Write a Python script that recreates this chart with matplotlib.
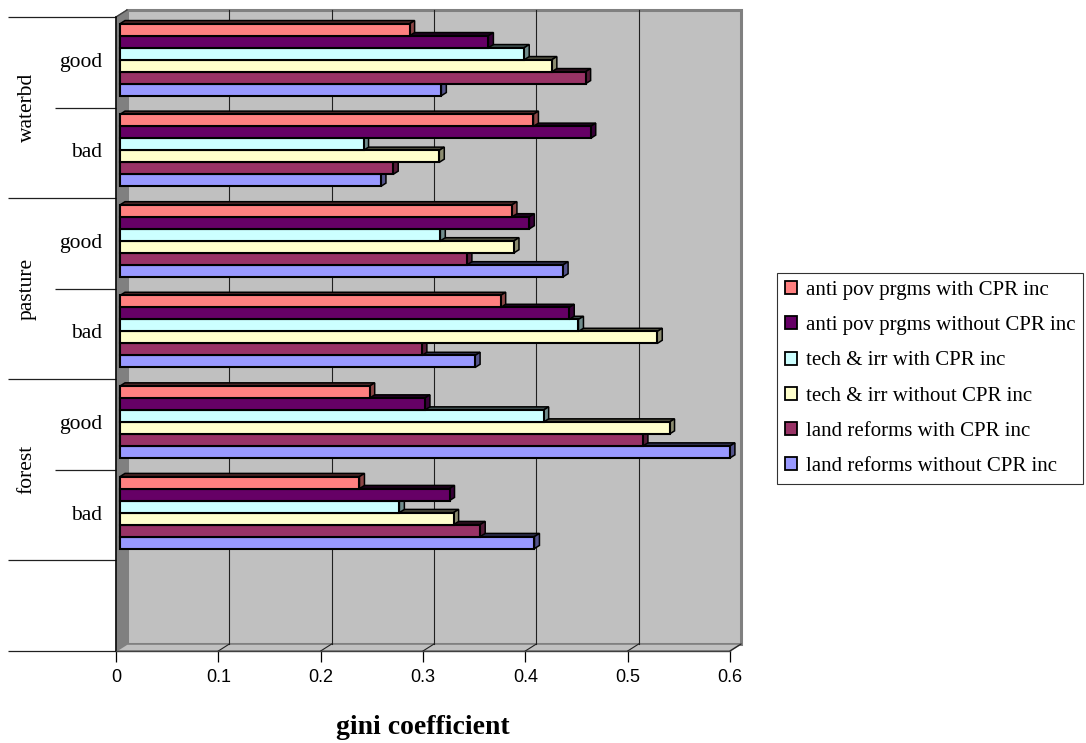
import matplotlib
matplotlib.use("Agg")
import numpy as np
import matplotlib.pyplot as plt
from matplotlib.patches import Polygon, Patch
from matplotlib.lines import Line2D
from matplotlib.colors import to_rgb
from matplotlib.transforms import IdentityTransform, offset_copy

# ---- data -------------------------------------------------------------
groups = ["waterbd", "pasture", "forest"]
rows = ["good", "bad", "good", "bad", "good", "bad"]   # top to bottom

series_labels = [
    "anti pov prgms with CPR inc",
    "anti pov prgms without CPR inc",
    "tech & irr with CPR inc",
    "tech & irr without CPR inc",
    "land reforms with CPR inc",
    "land reforms without CPR inc",
]
series_colors = ["#FF8080", "#660066", "#CCFFFF", "#FFFFCC", "#993366", "#9999FF"]

# gini coefficient per row (waterbd good/bad, pasture good/bad, forest good/bad)
anti_pov_with = [0.283, 0.404, 0.383, 0.372, 0.244, 0.234]
anti_pov_without = [0.360, 0.460, 0.400, 0.439, 0.298, 0.322]
tech_irr_with = [0.395, 0.238, 0.313, 0.448, 0.414, 0.273]
tech_irr_without = [0.422, 0.312, 0.385, 0.525, 0.537, 0.326]
land_reforms_with = [0.455, 0.267, 0.339, 0.295, 0.511, 0.352]
land_reforms_without = [0.314, 0.255, 0.433, 0.347, 0.596, 0.405]

x_ticks = [0, 0.1, 0.2, 0.3, 0.4, 0.5, 0.6]
x_tick_labels = ["0", "0.1", "0.2", "0.3", "0.4", "0.5", "0.6"]
x_label = "gini coefficient"

series_values = [anti_pov_with, anti_pov_without, tech_irr_with,
                 tech_irr_without, land_reforms_with, land_reforms_without]

# ---- figure -----------------------------------------------------------
W, H, DPI = 1086, 743, 100
SERIF = "Liberation Serif"
SANS = "Liberation Sans"

fig = plt.figure(figsize=(W / DPI, H / DPI), dpi=DPI)
fig.patch.set_facecolor("white")
ax = fig.add_axes([116 / W, (H - 651) / H, (730 - 116) / W, (651 - 17) / H])
n_slots = len(rows) + 1          # six category rows plus an empty slot
ax.set_xlim(x_ticks[0], x_ticks[-1])
ax.set_ylim(0, n_slots)
ax.patch.set_visible(False)

DEPTH = np.array([11.0, 7.0])     # screen shift of the back wall (pixels)


def proj(v, r, d):
    x, y = ax.transData.transform((v, r))
    return (x + d * DEPTH[0], y + d * DEPTH[1])


def face(pts, **kw):
    poly = Polygon([proj(*p) for p in pts], closed=True,
                   transform=IdentityTransform(), clip_on=False, **kw)
    ax.add_patch(poly)


def edge(p0, p1, **kw):
    a, b = proj(*p0), proj(*p1)
    ax.add_line(Line2D([a[0], b[0]], [a[1], b[1]],
                       transform=IdentityTransform(), clip_on=False, **kw))


def shade(color, k):
    return tuple(c * k for c in to_rgb(color))


vmax = x_ticks[-1]
# walls and floor
face([(0, 0, 1), (vmax, 0, 1), (vmax, n_slots, 1), (0, n_slots, 1)],
     fc="#C0C0C0", ec="#808080", lw=2.2, zorder=0.1)
face([(0, 0, 0), (0, 0, 1), (0, n_slots, 1), (0, n_slots, 0)],
     fc="#808080", ec="#808080", lw=0.8, zorder=0.2)
face([(0, 0, 0), (vmax, 0, 0), (vmax, 0, 1), (0, 0, 1)],
     fc="#C0C0C0", ec="#808080", lw=1.2, zorder=0.3)
edge((0, n_slots, 0), (0, n_slots, 1), color="#404040", lw=1.0, zorder=0.4)

# gridlines on back wall and floor
for v in x_ticks[1:]:
    if v < vmax:
        edge((v, 0, 1), (v, n_slots, 1), color="#202020", lw=0.8, zorder=0.5)
    edge((v, 0, 0), (v, 0, 1), color="#202020", lw=0.8, zorder=0.5)

# 3-D bars
row_centers = n_slots - 0.5 - np.arange(len(rows))
CLUSTER = 0.795
bar_h = CLUSTER / len(series_values)
D0, D1 = 4 / 11, 9 / 11
for i, c in enumerate(row_centers):
    top = c + CLUSTER / 2
    for j in reversed(range(len(series_values))):
        v = series_values[j][i]
        y1 = top - j * bar_h
        y0 = y1 - bar_h
        col = series_colors[j]
        face([(0, y1, D0), (v, y1, D0), (v, y1, D1), (0, y1, D1)],
             fc=shade(col, 0.3), ec="black", lw=1.1, zorder=3)
        face([(v, y0, D0), (v, y0, D1), (v, y1, D1), (v, y1, D0)],
             fc=shade(col, 0.55), ec="black", lw=1.1, zorder=3)
        face([(0, y0, D0), (v, y0, D0), (v, y1, D0), (0, y1, D0)],
             fc=col, ec="black", lw=1.5, zorder=3)

# axes lines and ticks
for s in ("top", "right"):
    ax.spines[s].set_visible(False)
ax.spines["left"].set_color("black")
ax.spines["left"].set_linewidth(1.1)
ax.spines["bottom"].set_color("#404040")
ax.spines["bottom"].set_linewidth(1.0)
ax.spines["left"].set_zorder(4)
ax.spines["bottom"].set_zorder(4)

ax.set_xticks(x_ticks)
ax.set_xticklabels(x_tick_labels, fontsize=13, family=SANS)
ax.tick_params(axis="x", length=7.9, width=0.9, color="black", pad=5, direction="out")

ax.set_yticks([0, 1, 3, 5, 7])
ax.set_yticks([2, 4, 6], minor=True)
ax.tick_params(axis="y", which="major", length=77.8, width=0.9, color="#202020",
               labelleft=False, direction="out")
ax.tick_params(axis="y", which="minor", length=43.9, width=0.9, color="#202020",
               labelleft=False, direction="out")

# category labels
lab_tr = offset_copy(ax.get_yaxis_transform(), fig=fig, x=-14, y=0, units="dots")
for c, name in zip(row_centers, rows):
    ax.text(0, c, name, transform=lab_tr, ha="right", va="center",
            fontsize=15.5, family=SERIF)
grp_tr = offset_copy(ax.get_yaxis_transform(), fig=fig, x=-89, y=0, units="dots")
for k, g in enumerate(groups):
    yc = row_centers[2 * k: 2 * k + 2].mean()
    ax.text(0, yc, g, transform=grp_tr, ha="center", va="center",
            rotation=90, fontsize=15.5, family=SERIF)

fig.text(423 / W, 1 - 728 / H, x_label, ha="center", va="center",
         fontsize=20, fontweight="bold", family=SERIF)

# legend
handles = [Patch(facecolor=c, edgecolor="black", linewidth=1.3) for c in series_colors]
leg = fig.legend(handles, series_labels, loc="upper left",
                 bbox_to_anchor=(777 / W, 1 - 273 / H), borderaxespad=0,
                 prop={"family": SERIF, "size": 15.0}, frameon=True,
                 fancybox=False, shadow=False, handlelength=0.58,
                 handleheight=0.58, handletextpad=0.42, labelspacing=0.78,
                 borderpad=0.38)
leg.get_frame().set_edgecolor("black")
leg.get_frame().set_linewidth(0.8)

fig.savefig("out.png", dpi=DPI, facecolor="white")
